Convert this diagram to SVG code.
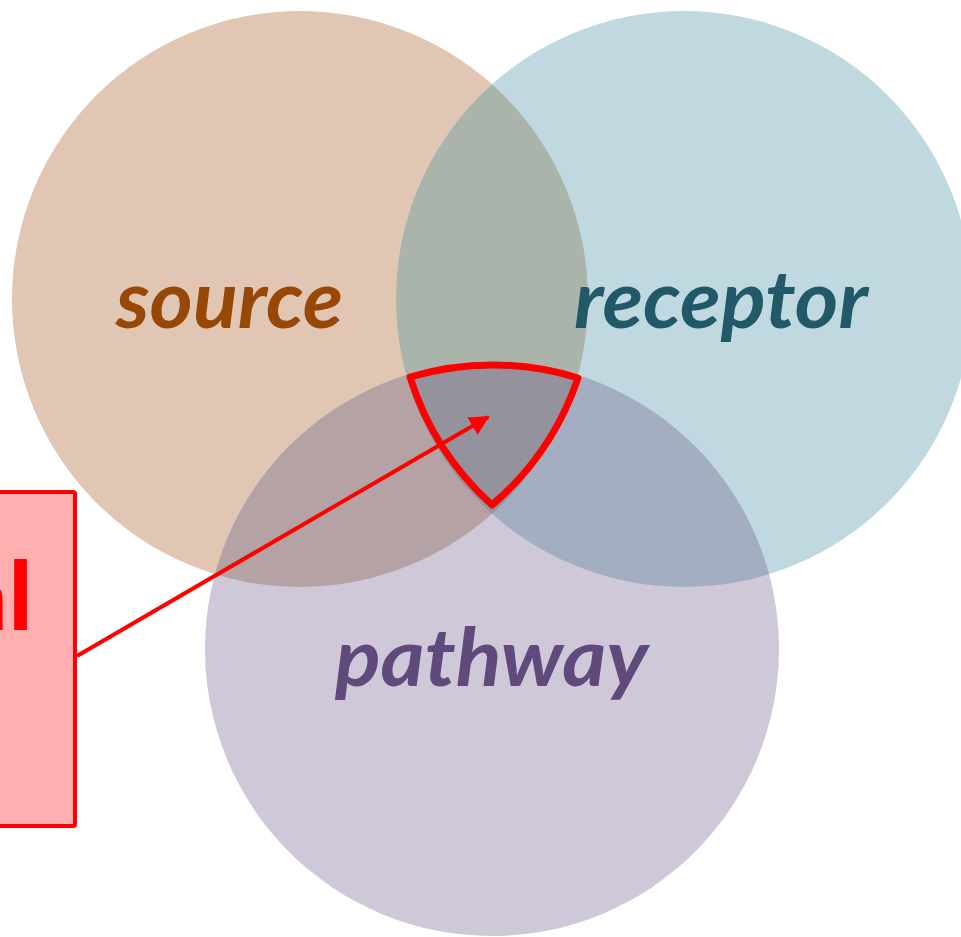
<svg xmlns="http://www.w3.org/2000/svg" width="961" height="937" viewBox="0 0 961 937">
<style>
.lbl{font-family:"Lato","Open Sans","Liberation Sans",sans-serif;font-weight:bold;font-style:italic;font-size:80px}
.red{fill:none;stroke:#ff0000}
</style>
<defs>
<clipPath id="cS"><circle cx="300" cy="299" r="288"/></clipPath>
<clipPath id="cR"><circle cx="684" cy="299" r="288"/></clipPath>
<clipPath id="cSR" clip-path="url(#cS)"><circle cx="684" cy="299" r="288"/></clipPath>
<marker id="ah" viewBox="0 0 10 10" refX="9" refY="5" markerWidth="5" markerHeight="5" orient="auto" markerUnits="strokeWidth"><path d="M0,0 L10,5 L0,10 Z" fill="#ff0000"/></marker>
</defs>
<rect width="961" height="937" fill="#ffffff"/>
<g id="source">
<circle cx="300" cy="299" r="288" fill="#e0c6b3"/>
</g>
<g id="receptor">
<circle cx="684" cy="299" r="288" fill="#c0d9e0"/>
</g>
<g id="pathway">
<circle cx="492" cy="649" r="287" fill="#cfc8d9"/>
</g>
<g id="overlaps">
<circle cx="684" cy="299" r="288" fill="#aab4ab" clip-path="url(#cS)"/>
<circle cx="492" cy="649" r="287" fill="#b5a2a4" clip-path="url(#cS)"/>
<circle cx="492" cy="649" r="287" fill="#a3afc1" clip-path="url(#cR)"/>
<circle cx="492" cy="649" r="287" fill="#93929d" clip-path="url(#cSR)"/>
</g>
<g id="labels">
<text class="lbl" x="116" y="328" fill="#974706" textLength="227" lengthAdjust="spacingAndGlyphs">source</text>
<text class="lbl" x="574" y="328" fill="#215968" textLength="294" lengthAdjust="spacingAndGlyphs">receptor</text>
<text class="lbl" x="335" y="686" fill="#604a7b" textLength="313" lengthAdjust="spacingAndGlyphs">pathway</text>
</g>
<g id="highlight">
<path class="red" stroke-width="7" stroke-linejoin="round" d="M410,377 A287,287 0 0 1 578,378 A288,288 0 0 1 492,505 A288,288 0 0 1 410,377 Z"/>
</g>
<g id="callout">
<rect x="-20" y="492" width="95" height="334" rx="2" fill="#ffafaf" stroke="#ff0000" stroke-width="4"/>
<text x="33" y="630" text-anchor="end" fill="#ff0000" font-family="Carlito,'Open Sans','Liberation Sans',sans-serif" font-weight="bold" font-size="102">al</text>
</g>
<g id="connectors">
<line class="red" x1="77" y1="656" x2="488" y2="417" stroke-width="4" marker-end="url(#ah)"/>
</g>
</svg>
